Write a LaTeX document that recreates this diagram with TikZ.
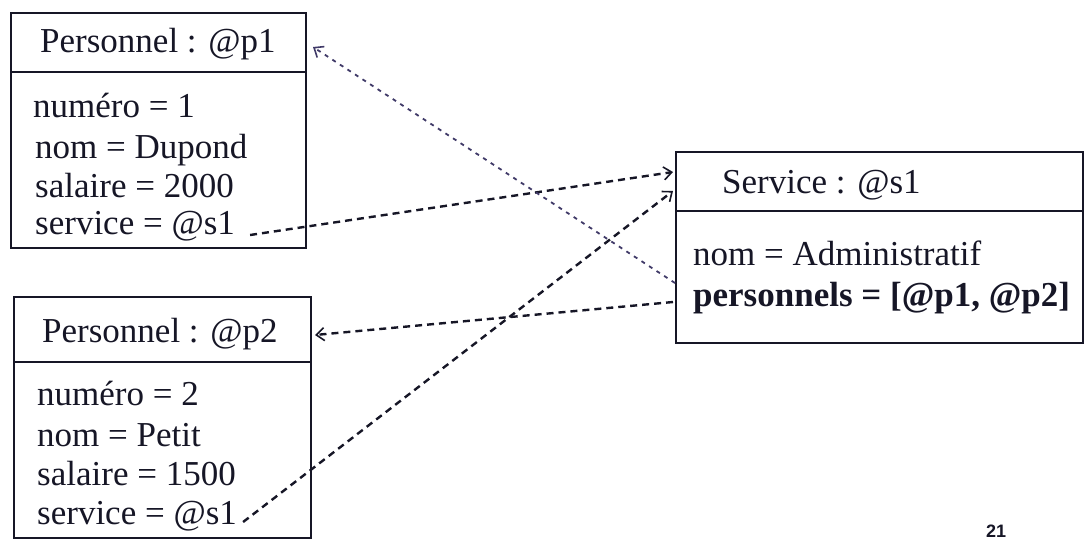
\documentclass[tikz,border=0pt]{standalone}
\usepackage{fontspec}
\setmainfont{Liberation Serif}
\newfontfamily\pagefont{Liberation Sans}
\usetikzlibrary{arrows.meta,calc}

\definecolor{ink}{RGB}{22,22,38}
\definecolor{dotink}{RGB}{64,58,104}

\begin{document}
\begin{tikzpicture}[x=1pt,y=-1pt,
  objbox/.style={draw=ink,line width=2pt,rectangle,inner sep=0pt,anchor=north west},
  rule/.style={draw=ink,line width=2pt},
  txt/.style={inner sep=0pt,anchor=base west,text=ink,font=\fontsize{35}{40}\selectfont},
  tip/.style={-{Straight Barb[length=8pt,width=13pt,line width=1.6pt]}},
  ref/.style={tip,draw=ink,line width=2.4pt,dash pattern=on 7pt off 5pt},
  backref/.style={tip,draw=dotink,line width=1.8pt,dash pattern=on 4pt off 5pt}
]
\useasboundingbox (0,0) rectangle (1084,539);

% object boxes
\node[objbox,minimum width=295pt,minimum height=235pt] (p1) at (10,12) {};
\node[objbox,minimum width=297pt,minimum height=241pt] (p2) at (13,296) {};
\node[objbox,minimum width=407pt,minimum height=191pt] (svc) at (675,151) {};

% header separators
\draw[rule] (10,72) -- (305,72);
\draw[rule] (13,362) -- (310,362);
\draw[rule] (675,211) -- (1082,211);

% first Personnel object
\node[txt] (p1h)   at (40,52)  {Personnel : @p1};
\node[txt] (p1num) at (33,117) {numéro = 1};
\node[txt] (p1nom) at (35,158) {nom = Dupond};
\node[txt] (p1sal) at (35,197) {salaire = 2000};
\node[txt] (p1srv) at (35,234) {service = @s1};

% second Personnel object
\node[txt] (p2h)   at (42,342) {Personnel : @p2};
\node[txt] (p2num) at (37,405) {numéro = 2};
\node[txt] (p2nom) at (37,446) {nom = Petit};
\node[txt] (p2sal) at (37,485) {salaire = 1500};
\node[txt] (p2srv) at (37,524) {service = @s1};

% Service object
\node[txt] (svch)   at (722,193) {Service : @s1};
\node[txt] (svcnom) at (693,265) {nom = Administratif};
\node[txt] (svcper) at (693,306) {\bfseries personnels = [@p1, @p2]};

% page number
\node[inner sep=0pt,anchor=base west,text=ink,font=\pagefont\bfseries\fontsize{18}{20}\selectfont] (pg) at (986,537) {21};

% connector ends
\coordinate (p1out) at ([xshift=15pt,yshift=-1pt]p1srv.base east);
\coordinate (p2out) at ([xshift=6pt,yshift=2pt]p2srv.base east);
\coordinate (svcA)  at ($(svc.north west)+(-2,21)$);
\coordinate (svcB)  at ($(svc.north west)+(-2,40)$);
\coordinate (svcP1) at ($(svc.north west)+(0,132)$);
\coordinate (svcP2) at ($(svc.north west)+(-2,151)$);
\coordinate (p1in)  at ($(p1.north east)+(6,35)$);
\coordinate (p2in)  at ($(p2.north east)+(3,39)$);

% references
\draw[ref] (p1out) -- (svcA);
\draw[ref] (p2out) -- (svcB);
\draw[backref] (svcP1) -- (p1in);
\draw[ref] (svcP2) -- (p2in);
\end{tikzpicture}
\end{document}
